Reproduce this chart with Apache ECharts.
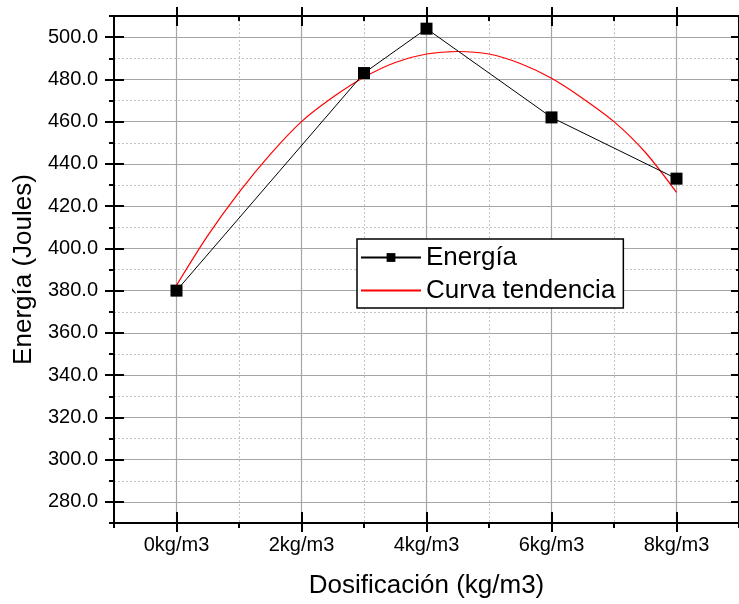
<!DOCTYPE html>
<html>
<head>
<meta charset="utf-8">
<script src="https://cdn.jsdelivr.net/npm/echarts@6/dist/echarts.min.js"></script>
<style>html,body{margin:0;padding:0;background:#fff;}#c{width:739px;height:604px;}</style>
</head>
<body>
<div id="c"></div>
<script>
// Data
var energyX = [0, 3, 4, 6, 8];
var energyY = [380, 483, 504, 462, 433];
var trendX = [0, 0.5, 1, 1.5, 2, 2.5, 3, 3.5, 4, 4.5, 5, 5.5, 6, 6.5, 7, 7.5, 8];
var trendY = [382.5, 406, 426.5, 444.5, 460, 471.5, 481, 488, 492, 493.2, 492, 487.5, 480.5, 471, 460, 445.5, 426.5];
var xMajorTicks = [0, 2, 4, 6, 8];
var yMajorTicks = [280, 300, 320, 340, 360, 380, 400, 420, 440, 460, 480, 500];
var seriesNames = ['Energía', 'Curva tendencia'];
var xTitle = 'Dosificación (kg/m3)';
var yTitle = 'Energía (Joules)';

var FONT = '"Liberation Sans", Arial, sans-serif';
function pairs(xs, ys) { return xs.map(function (x, i) { return [x, ys[i]]; }); }

var XR = { min: -1, max: 9, interval: 1 };
var YR = { min: 270, max: 510, interval: 10 };
function base(extra, range) {
  var o = { type: 'value', min: range.min, max: range.max, interval: range.interval, gridIndex: 0,
    axisLine: { show: false, onZero: false }, axisTick: { show: false }, axisLabel: { show: false },
    splitLine: { show: false }, minorTick: { show: false } };
  for (var k in extra) o[k] = extra[k];
  if (!o.axisLine.hasOwnProperty('onZero')) o.axisLine.onZero = false;
  return o;
}
var black = '#000';
var xAxes = [
  base({ position: 'bottom',
    axisLine: { show: true, onZero: false, lineStyle: { color: black, width: 2 } },
    axisTick: { show: true, inside: false, length: 9, customValues: xMajorTicks, lineStyle: { color: black, width: 2 } },
    axisLabel: { show: true, customValues: xMajorTicks, formatter: function (v) { return v + 'kg/m3'; },
      color: '#000', fontFamily: FONT, fontSize: 20, margin: 12 },
    name: xTitle, nameLocation: 'middle', nameGap: 50,
    nameTextStyle: { color: '#000', fontFamily: FONT, fontSize: 26 } }, XR),
  base({ position: 'bottom',
    axisTick: { show: true, inside: true, length: 11, customValues: xMajorTicks, lineStyle: { color: black, width: 2 } } }, XR),
  base({ position: 'bottom',
    axisTick: { show: true, inside: false, length: 5, lineStyle: { color: black, width: 2 } },
    splitLine: { show: true, lineStyle: { color: '#c4c4c4', width: 1, type: [2, 2] } } }, XR),
  base({ position: 'bottom',
    splitLine: { show: true, lineStyle: { color: ['rgba(0,0,0,0)', '#a6a6a6'], width: 1.2 } } }, XR),
  base({ position: 'top',
    axisLine: { show: true, onZero: false, lineStyle: { color: black, width: 2 } },
    axisTick: { show: true, inside: false, length: 9, customValues: xMajorTicks, lineStyle: { color: black, width: 2 } } }, XR),
  base({ position: 'top',
    axisTick: { show: true, inside: true, length: 10, customValues: xMajorTicks, lineStyle: { color: black, width: 2 } } }, XR),
  base({ position: 'top',
    axisTick: { show: true, inside: true, length: 5, lineStyle: { color: black, width: 2 } } }, XR)
];
var yAxes = [
  base({ position: 'left',
    axisLine: { show: true, onZero: false, lineStyle: { color: black, width: 2 } },
    axisTick: { show: true, inside: false, length: 9, customValues: yMajorTicks, lineStyle: { color: black, width: 2 } },
    axisLabel: { show: true, customValues: yMajorTicks, formatter: function (v) { return v.toFixed(1); },
      color: '#000', fontFamily: FONT, fontSize: 20, margin: 16 },
    name: yTitle, nameLocation: 'middle', nameGap: 77, nameRotate: 90,
    nameTextStyle: { color: '#000', fontFamily: FONT, fontSize: 26 } }, YR),
  base({ position: 'left',
    axisTick: { show: true, inside: true, length: 10, customValues: yMajorTicks, lineStyle: { color: black, width: 2 } } }, YR),
  base({ position: 'left',
    axisTick: { show: true, inside: false, length: 5, lineStyle: { color: black, width: 2 } },
    splitLine: { show: true, lineStyle: { color: '#c4c4c4', width: 1, type: [2, 2] } } }, YR),
  base({ position: 'left',
    splitLine: { show: true, lineStyle: { color: ['rgba(0,0,0,0)', '#a6a6a6'], width: 1.2 } } }, YR),
  base({ position: 'right',
    axisLine: { show: true, onZero: false, lineStyle: { color: black, width: 2 } },
    axisTick: { show: true, inside: true, length: 8, customValues: yMajorTicks, lineStyle: { color: black, width: 2 } } }, YR),
  base({ position: 'right',
    axisTick: { show: true, inside: true, length: 3, lineStyle: { color: black, width: 2 } } }, YR)
];

var chart = echarts.init(document.getElementById('c'), null, { renderer: 'canvas' });
chart.setOption({
  backgroundColor: '#fff',
  animation: false,
  grid: { left: 114, top: 16, width: 627, height: 508, containLabel: false },
  xAxis: xAxes,
  yAxis: yAxes,
  legend: {
    show: true, orient: 'vertical', left: 357, top: 239,
    backgroundColor: '#fff', borderColor: '#000', borderWidth: 1.5, borderRadius: 0,
    padding: [5, 8, 4, 3], itemWidth: 60, itemHeight: 11, itemGap: 6,
    textStyle: { color: '#000', fontFamily: FONT, fontSize: 26, lineHeight: 27 },
    data: [
      { name: seriesNames[0] },
      { name: seriesNames[1], itemStyle: { color: 'rgba(0,0,0,0)', borderWidth: 0, opacity: 0 } }
    ]
  },
  series: [
    { name: seriesNames[1], type: 'line', xAxisIndex: 0, yAxisIndex: 0, data: pairs(trendX, trendY),
      smooth: 0.3, showSymbol: false, symbol: 'none', lineStyle: { color: '#ff0000', width: 1.2 },
      itemStyle: { color: '#ff0000' }, z: 3 },
    { name: seriesNames[0], type: 'line', xAxisIndex: 0, yAxisIndex: 0, data: pairs(energyX, energyY),
      symbol: 'rect', symbolSize: 12, showSymbol: true, lineStyle: { color: '#000', width: 1 },
      itemStyle: { color: '#000' }, z: 4 }
  ]
});
</script>
</body>
</html>
